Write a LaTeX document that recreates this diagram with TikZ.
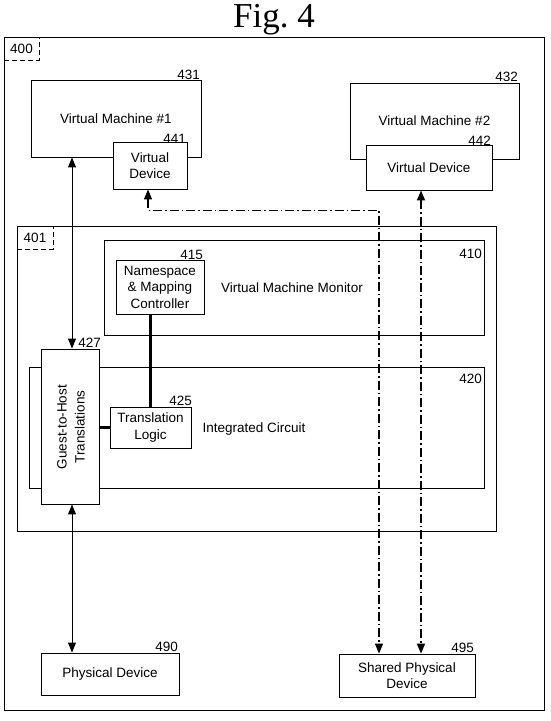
\documentclass[tikz,border=0pt]{standalone}
\usepackage{fontspec}
\setmainfont{Liberation Sans}
\newfontfamily\seriffont{Liberation Serif}
\usetikzlibrary{arrows.meta,calc}
\begin{document}
\begin{tikzpicture}[x=1pt,y=-1pt,
  box/.style={draw,line width=0.9pt,fill=white,inner sep=0pt,align=center,font=\fontsize{13.5}{16.5}\selectfont},
  lab/.style={inner sep=0pt,anchor=base east,font=\fontsize{13.5}{16}\selectfont},
  txt/.style={inner sep=0pt,align=center,font=\fontsize{13.5}{16.5}\selectfont},
  tagbox/.style={draw,line width=0.9pt,dash pattern=on 5pt off 3pt,inner sep=0pt,font=\fontsize{13.5}{16}\selectfont},
  tip/.tip={Triangle[length=10pt,width=8pt]},
  arr/.style={line width=1pt,tip-tip},
  dd/.style={line width=1.2pt,dash pattern=on 9pt off 3pt on 1.5pt off 3pt,tip-tip},
  ddb/.style={line width=1.6pt,dash pattern=on 9pt off 3pt on 1.5pt off 3pt,tip-tip},
  heavy/.style={line width=3.5pt}
]
\useasboundingbox (0,0) rectangle (550,721);
\fill[white] (0,0) rectangle (550,721);
% title
\node[inner sep=0pt,anchor=base,font=\seriffont\fontsize{35}{40}\selectfont] (title) at (274,27) {Fig.~4};
% outer frame 400
\node[draw,line width=1pt,inner sep=0pt,minimum width=540pt,minimum height=673pt] (f400) at (274,373.5) {};
\node[tagbox,minimum width=35pt,minimum height=23pt] (t400) at (21.5,48.5) {400};
% virtual machines
\node[box,minimum width=170pt,minimum height=77pt] (vm1) at (116,118.5) {Virtual Machine \#1};
\node[lab] (l431) at (200,79) {431};
\node[box,minimum width=74pt,minimum height=47pt] (vd1) at (150,165.5) {Virtual\\Device};
\node[lab] (l441) at (186,143) {441};
\node[box,minimum width=169pt,minimum height=76pt] (vm2) at (434.5,121) {Virtual Machine \#2};
\node[lab] (l432) at (518,81) {432};
\node[box,minimum width=126pt,minimum height=45pt] (vd2) at (429,167.5) {Virtual Device};
\node[lab] (l442) at (491,145) {442};
% box 401
\node[draw,line width=0.9pt,inner sep=0pt,minimum width=479pt,minimum height=305pt] (f401) at (256.5,378.5) {};
\node[tagbox,minimum width=36pt,minimum height=23pt] (t401) at (35,237.5) {401};
% VMM 410
\node[box,minimum width=380pt,minimum height=95pt] (vmm) at (294,287.5) {};
\node[lab] (l410) at (482,258) {410};
\node[txt] (vmmt) at (292,288) {Virtual Machine Monitor};
\node[box,minimum width=88pt,minimum height=54pt] (ns) at (160,287) {Namespace\\\& Mapping\\Controller};
\node[lab] (l415) at (203,259.5) {415};
% IC 420
\node[box,minimum width=455pt,minimum height=121pt] (ic) at (256.5,427.5) {};
\node[lab] (l420) at (482,383) {420};
\node[txt] (ict) at (254,429) {Integrated Circuit};
\node[box,minimum width=58pt,minimum height=155pt] (g2h) at (70,426.5) {};
\node[txt,rotate=90,font=\fontsize{13.5}{18}\selectfont] (g2ht) at (71,427) {Guest-to-Host\\Translations};
\node[lab] (l427) at (101,347.5) {427};
\node[box,minimum width=81pt,minimum height=41pt] (tl) at (150.5,427.5) {Translation\\Logic};
\node[lab] (l425) at (192,405.5) {425};
% physical devices
\node[box,minimum width=138pt,minimum height=42pt] (pd) at (110,674) {Physical Device};
\node[lab] (l490) at (178,651.5) {490};
\node[box,minimum width=136pt,minimum height=43pt] (spd) at (407,675.5) {Shared Physical\\Device};
\node[lab] (l495) at (474,652.5) {495};
% connectors
\coordinate (a1) at ($(g2h.north)+(2,0)$);
\coordinate (a2) at ($(g2h.south)+(2,0)$);
\draw[arr] (vm1.south -| a1) -- (a1);
\draw[arr] (a2) -- (a2 |- pd.north);
\draw[heavy] (tl.north) -- (tl.north |- ns.south);
\draw[heavy] (g2h.east |- tl.west) -- (tl.west);
\coordinate (d1) at ($(vd1.south)+(-2,0)$);
\coordinate (s1) at ($(spd.north)+(-28,0)$);
\draw[dd] (d1) -- ++(0,21) -| (s1);
\coordinate (d2) at ($(vd2.south)+(-8,0)$);
\draw[ddb] (d2) -- (d2 |- spd.north);
\end{tikzpicture}
\end{document}
